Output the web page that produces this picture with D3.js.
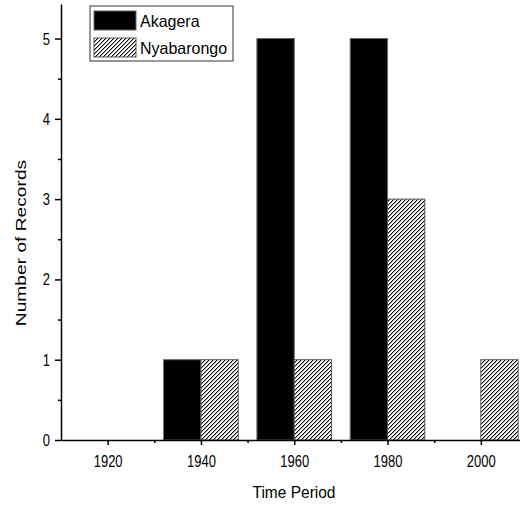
<!DOCTYPE html>
<html>
<head>
<meta charset="utf-8">
<script src="https://cdn.jsdelivr.net/npm/d3@7"></script>
<style>
  body { margin: 0; background: #fff; }
  svg { display: block; }
  text { font-family: "Liberation Sans", Arial, sans-serif; fill: #000; }
</style>
</head>
<body>
<svg id="chart" width="520" height="505"></svg>
<script>
// data
var periods = [1920, 1940, 1960, 1980, 2000];
var akagera = [0, 1, 5, 5, 0];
var nyabarongo = [0, 1, 1, 3, 1];
var seriesNames = ['Akagera', 'Nyabarongo'];
var xTicks = [1920, 1940, 1960, 1980, 2000];
var yTicks = [0, 1, 2, 3, 4, 5];

var svg = d3.select('#chart');
var margin = {top: 4, right: 0, bottom: 65, left: 61},
    width = 520 - margin.left - margin.right,
    height = 505 - margin.top - margin.bottom;

// the source picture is a bit taller than wide, so text is stretched vertically
var stretch = 1.2;

// hatch pattern: pixel staircase "/" lines, 4px apart
var defs = svg.append('defs');
var hatch = defs.append('pattern')
    .attr('id', 'hatch')
    .attr('patternUnits', 'userSpaceOnUse')
    .attr('width', 4).attr('height', 4);
hatch.append('rect').attr('width', 4).attr('height', 4).attr('fill', '#fff');
d3.range(4).forEach(function (r) {
  [['#000', 0], ['#aaa', 1]].forEach(function (px) {
    hatch.append('rect')
        .attr('x', (3 - r + px[1]) % 4).attr('y', r)
        .attr('width', 1).attr('height', 1)
        .attr('fill', px[0])
        .attr('shape-rendering', 'crispEdges');
  });
});

var g = svg.append('g').attr('transform', 'translate(' + margin.left + ',' + margin.top + ')');

var x = d3.scaleLinear().domain([1910, 2008.4]).range([0, width]);
var y = d3.scaleLinear().domain([0, 5.43]).range([height, 0]);
var barW = 8; // years

var rows = periods.map(function (p, i) {
  return {p: p, a: akagera[i], n: nyabarongo[i]};
});

// Akagera bars (left of the period tick)
g.selectAll('.bar-a').data(rows.filter(function (d) { return d.a > 0; }))
  .enter().append('rect')
    .attr('class', 'bar-a')
    .attr('x', function (d) { return x(d.p - barW); })
    .attr('y', function (d) { return y(d.a); })
    .attr('width', function () { return x(1910 + barW) - x(1910); })
    .attr('height', function (d) { return y(0) - y(d.a); })
    .attr('fill', '#000')
    .attr('stroke', '#666')
    .attr('stroke-width', 1);

// Nyabarongo bars (right of the period tick)
g.selectAll('.bar-n').data(rows.filter(function (d) { return d.n > 0; }))
  .enter().append('rect')
    .attr('class', 'bar-n')
    .attr('x', function (d) { return x(d.p); })
    .attr('y', function (d) { return y(d.n); })
    .attr('width', function () { return x(1910 + barW) - x(1910); })
    .attr('height', function (d) { return y(0) - y(d.n); })
    .attr('fill', 'url(#hatch)')
    .attr('stroke', '#555')
    .attr('stroke-width', 1);

// axes
var xAxis = g.append('g')
    .attr('transform', 'translate(0,' + height + ')')
    .call(d3.axisBottom(x).tickValues(xTicks).tickFormat(d3.format('d')).tickSize(5).tickSizeOuter(0));
var xMinor = g.append('g')
    .attr('transform', 'translate(0,' + height + ')')
    .call(d3.axisBottom(x).tickValues([1930, 1950, 1970, 1990]).tickFormat('').tickSize(3).tickSizeOuter(0));
xMinor.select('.domain').remove();

var yAxis = g.append('g')
    .call(d3.axisLeft(y).tickValues(yTicks).tickFormat(d3.format('d')).tickSize(6).tickSizeOuter(0));
var yMinor = g.append('g')
    .call(d3.axisLeft(y).tickValues([0.5, 1.5, 2.5, 3.5, 4.5]).tickFormat('').tickSize(3).tickSizeOuter(0));
yMinor.select('.domain').remove();

[xAxis, xMinor, yAxis, yMinor].forEach(function (a) {
  a.selectAll('path, line').attr('stroke', '#000').attr('stroke-width', 1.5);
});
xAxis.selectAll('text')
    .attr('font-size', 13).attr('dy', 0)
    .attr('y', 27 / stretch)
    .attr('transform', 'scale(1,' + stretch + ')');
yAxis.selectAll('text')
    .attr('font-size', 13).attr('dy', 0)
    .attr('x', -11).attr('y', 5.5 / stretch)
    .attr('transform', 'scale(1,' + stretch + ')');
svg.selectAll('.tick text')
    .attr('font-family', null)
    .style('font-family', '"Liberation Sans", Arial, sans-serif');

// axis titles
svg.append('text')
    .attr('transform', 'translate(294,498) scale(1,1.1)')
    .attr('text-anchor', 'middle')
    .attr('font-size', 15.5)
    .text('Time Period');
svg.append('text')
    .attr('transform', 'translate(26,243) rotate(-90) scale(1.28,1)')
    .attr('text-anchor', 'middle')
    .attr('font-size', 15)
    .text('Number of Records');

// legend
var legend = svg.append('g').attr('transform', 'translate(90,6)');
legend.append('rect')
    .attr('width', 143).attr('height', 55)
    .attr('fill', '#fff').attr('stroke', '#333').attr('stroke-width', 1);
var item = legend.selectAll('.item').data(seriesNames).enter().append('g')
    .attr('class', 'item')
    .attr('transform', function (d, i) { return 'translate(4,' + (5 + i * 27) + ')'; });
item.append('rect')
    .attr('width', 42).attr('height', 19)
    .attr('fill', function (d, i) { return i === 0 ? '#000' : 'url(#hatch)'; })
    .attr('stroke', function (d, i) { return i === 0 ? '#666' : '#555'; })
    .attr('stroke-width', 1);
item.append('text')
    .attr('transform', 'translate(46,16) scale(1,1.07)')
    .attr('font-size', 16)
    .text(function (d) { return d; });
</script>
</body>
</html>
